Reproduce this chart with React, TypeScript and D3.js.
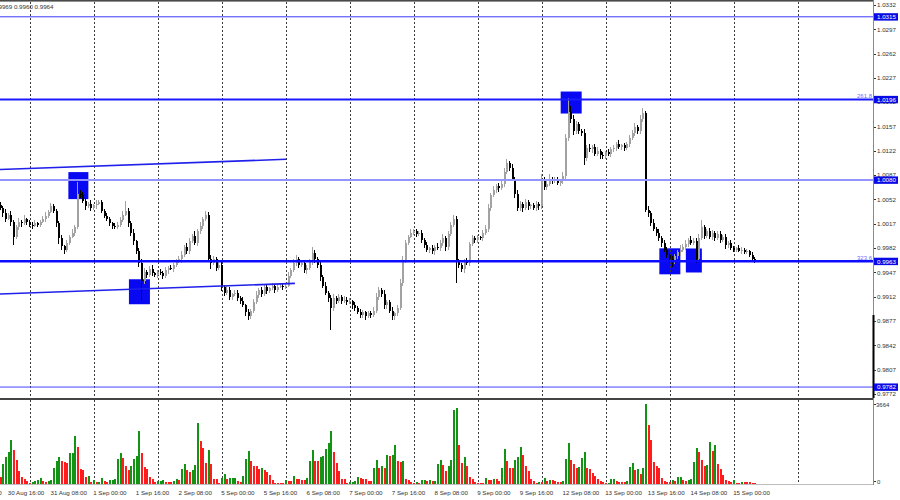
import React from 'react';
import * as d3 from 'd3';

// ---- DATA ----
// hourly closes, in 1/10000 price units (EURUSD H1)
const firstOpen = 10044;
const closes = [
  10040,10032,10024,10030,10020,9998,10012,10020,10018,10024,
  10019,10016,10014,10018,10016,10020,10024,10028,10034,10042,
  10036,10018,9996,9985,9980,9990,9998,10004,10012,10060,
  10058,10050,10042,10046,10040,10044,10046,10048,10036,10028,
  10024,10018,10014,10012,10016,10022,10030,10036,10018,10004,
  9992,9978,9960,9935,9948,9944,9952,9946,9944,9948,
  9946,9942,9950,9954,9952,9958,9962,9966,9972,9984,
  9978,9992,10000,9990,10006,10014,10024,10030,9966,9960,
  9966,9954,9958,9926,9918,9922,9912,9916,9918,9910,
  9906,9900,9890,9884,9892,9904,9914,9922,9916,9926,
  9920,9924,9928,9922,9926,9928,9926,9928,9942,9950,
  9960,9966,9958,9960,9950,9954,9962,9975,9966,9958,
  9940,9928,9918,9910,9896,9910,9906,9912,9906,9908,
  9904,9906,9900,9896,9890,9886,9890,9884,9888,9886,
  9892,9912,9922,9916,9900,9904,9892,9884,9888,9896,
  9932,9964,9990,9998,10004,10006,10002,10004,9994,9986,
  9980,9982,9978,9984,9982,9990,9996,9984,10002,10016,
  10024,9962,9958,9952,9962,9960,9988,9996,9994,9998,
  9996,10004,10010,10040,10058,10066,10072,10068,10074,10092,
  10104,10098,10082,10060,10040,10046,10040,10048,10042,10044,
  10040,10046,10042,10080,10070,10074,10082,10078,10080,10076,
  10078,10086,10140,10178,10168,10150,10160,10150,10148,10112,
  10126,10124,10128,10118,10122,10116,10114,10120,10118,10124,
  10126,10132,10128,10130,10126,10132,10140,10148,10156,10150,
  10168,10176,10037,10032,10018,10010,10004,9996,9990,9980,
  9972,9966,9962,9970,9976,9980,9984,9988,9994,9990,
  9992,9966,9996,10012,10000,10006,9998,10004,9996,10002,
  9994,9998,9986,9990,9982,9980,9982,9978,9980,9976,
  9978,9972,9966,9964,
];
// upper / lower shadow lengths (1/10000 units)
const wickUp = [
  4,3,6,2,5,3,4,6,3,5, 2,4,3,5,2,3,4,6,3,5, 4,2,3,5,2,4,3,6,4,17, 6,5,4,3,6,2,5,4,3,2,
  5,3,2,4,3,5,6,14,4,3, 5,2,4,6,5,3,4,6,2,3, 4,3,5,2,4,3,5,4,6,3, 5,4,3,6,4,5,3,5,4,6,
  5,3,4,6,3,5,4,2,3,4, 3,5,2,4,3,5,6,3,4,5, 3,2,4,3,5,2,4,3,5,4, 6,6,3,4,5,3,4,8,5,3,
  4,3,5,2,4,6,3,4,2,5, 3,4,2,5,3,4,3,2,4,3, 5,6,4,3,5,4,3,5,2,4, 5,6,4,3,5,4,3,2,4,3,
  5,2,4,3,5,4,6,3,5,4, 6,4,5,3,4,6,3,5,4,3, 2,4,5,6,4,5,3,4,6,5, 6,4,5,3,6,4,3,5,4,2,
  3,4,2,8,5,4,6,3,5,4, 3,5,6,20,8,6,5,4,3,5, 4,6,3,4,5,3,4,2,5,3, 4,3,5,2,4,3,5,4,6,3,
  5,8,3,5,4,6,3,5,4,3, 4,3,5,4,3,6,4,5,3,6, 4,5,6,10,4,3,5,4,3,5, 4,3,5,2,4,3,2,4,3,2,
  3,2,4,3,
];
const wickDn = [
  3,5,4,2,6,12,3,4,5,3, 4,3,5,2,4,3,2,4,3,2, 3,5,8,6,6,4,3,2,4,3, 4,3,5,2,4,3,5,2,4,3,
  3,4,5,3,2,4,3,2,5,4, 6,4,5,27,4,5,3,4,3,5, 2,4,3,5,2,4,3,2,5,3, 4,5,3,4,5,3,4,3,4,8,
  3,5,4,6,5,3,4,5,3,4, 4,3,5,6,4,3,2,4,5,3, 4,3,2,4,3,2,4,3,2,3, 3,4,5,3,4,5,3,4,5,4,
  5,4,3,5,32,4,5,3,4,3, 4,3,5,4,3,5,4,6,3,4, 3,4,5,4,6,5,4,6,5,4, 3,4,3,4,2,3,4,3,5,4,
  3,5,4,6,3,4,5,6,4,3, 4,30,5,4,6,3,4,3,5,4, 3,4,3,5,4,3,4,5,3,4, 3,5,4,6,5,4,6,3,5,4,
  3,4,5,3,4,5,3,4,2,3, 4,3,5,4,6,5,3,4,5,10, 4,3,5,4,3,5,4,3,4,5, 3,4,3,5,4,3,4,3,5,4,
  3,4,3,5,4,3,5,4,6,3, 4,5,7,3,4,5,3,4,5,4, 3,6,4,3,5,4,3,5,4,3, 4,3,5,4,3,4,3,2,4,3,
  2,3,4,4,
];
// tick volumes
const volumes = [
  307,916,1237,1466,2015,1557,1099,595,321,229, 115,46,78,137,197,275,124,105,137,197,
  733,1040,1223,1067,1021,962,1410,1425,2198,1681, 687,641,334,353,105,197,105,110,261,151,
  105,197,205,229,1145,1406,1177,838,655,811, 1145,1296,2414,1406,765,687,307,229,78,124,
  151,169,105,100,78,137,229,197,687,916, 641,563,655,870,2780,1956,1635,962,1557,916,
  229,220,46,261,444,229,261,265,270,137, 105,353,1145,1498,1040,838,811,687,747,641,
  536,412,183,46,44,42,40,197,137,133, 353,229,225,197,192,261,1040,1571,1067,1060,
  1223,1296,1603,1878,2414,1479,962,582,229,225, 46,105,110,151,307,289,229,225,151,137,
  747,1085,747,824,747,1328,1282,1328,1786,1040, 994,1053,229,197,78,46,105,46,183,197,
  137,197,137,140,930,1099,870,609,838,1113, 3403,3467,1786,948,1250,838,307,229,78,46,
  44,42,261,197,192,229,225,151,747,1589, 1053,719,710,1099,1223,1681,1328,811,609,229,
  137,46,105,78,289,137,197,192,137,105, 100,137,1131,1864,1099,916,719,765,1205,1452,
  747,687,490,380,229,137,105,46,50,229, 235,151,105,78,75,137,792,962,641,687,
  458,733,3664,2716,2015,1021,838,733,261,151, 78,75,183,137,307,310,183,137,197,229,
  1021,1649,1452,1113,811,870,1937,1525,1786,916, 687,412,197,137,78,183,46,44,105,100,
  78,75,46,32,
];
const volumeMax = 3664;

const timeLabels = [
  '30 Aug 00:00','30 Aug 16:00','31 Aug 08:00','1 Sep 00:00','1 Sep 16:00','2 Sep 08:00',
  '5 Sep 00:00','5 Sep 16:00','6 Sep 08:00','7 Sep 00:00','7 Sep 16:00','8 Sep 08:00',
  '9 Sep 00:00','9 Sep 16:00','12 Sep 08:00','13 Sep 00:00','13 Sep 16:00','14 Sep 08:00','15 Sep 00:00',
];
const labelBars = [-14,2,18,34,50,66,82,98,114,130,146,162,178,194,210,226,242,258,274];

const priceTicks = [1.0332,1.0297,1.0262,1.0227,1.0192,1.0157,1.0122,1.0087,1.0052,1.0017,0.9982,0.9947,0.9912,0.9877,0.9842,0.9807,0.9772];
const levelPrices = [1.0315, 1.0196, 1.0080, 0.9963, 0.9782];
const fibPrices = [1.0196, 0.9963];
const fibTexts = ['261.8', '323.6'];
const trendUpperBars = [-0.2, 107.1];
const trendUpperPrices = [1.00952, 1.01099];
const trendLowerBars = [-0.2, 110.4];
const trendLowerPrices = [0.99159, 0.99313];
const markerBars = [29.2, 52.1, 214, 251, 260];
const markerPrices = [1.0072, 0.99192, 1.01916, 0.9963, 0.99642];
const headerText = 'EURUSD,H1  0.9966 0.9969 0.9960 0.9964';

// ---- STYLE / LAYOUT ----
const BAR_STEP = 2.6667;
const AXIS_X = 873;
const FONT = '"Liberation Sans", Arial, sans-serif';
const markerSizes = [[20, 27], [21, 25], [21, 22], [21, 26], [16, 24]];
const levelStyles = [
  { c: '#3a3aff', w: 1 },
  { c: '#1a1aff', w: 2 },
  { c: '#9494ff', w: 2 },
  { c: '#0c0cff', w: 2.5 },
  { c: '#4444ff', w: 1 },
];

export default function App() {
  const n = closes.length;
  const x = d3.scaleLinear().domain([0, n - 1]).range([0.5, 0.5 + (n - 1) * BAR_STEP]);
  const y = d3.scaleLinear().domain([0.9772, 1.0332]).range([394, 5]);
  const vy = d3.scaleLinear().domain([0, volumeMax]).range([484, 404]);

  const candles = closes.map((c, i) => {
    const o = i === 0 ? firstOpen : closes[i - 1];
    const hi = Math.max(o, c) + wickUp[i];
    const lo = Math.min(o, c) - wickDn[i];
    return { o: o / 1e4, c: c / 1e4, h: hi / 1e4, l: lo / 1e4 };
  });

  const gridXs = d3.range(0, 13).map((k) => 30 + 64 * k);
  const line = d3.line<[number, number]>().x((d) => x(d[0])).y((d) => y(d[1]));

  return (
    <svg width={900} height={500} style={{ position: 'absolute', left: 0, top: 0, background: '#fff' }}
      fontFamily={FONT}>
      <rect x={0} y={0} width={900} height={500} fill="#fff" />

      {/* rectangles (background objects) */}
      {markerBars.map((b, k) => {
        const [w, h] = markerSizes[k];
        return <rect key={'m' + k} x={x(b) - w / 2} y={y(markerPrices[k]) - h / 2} width={w} height={h} fill="#0808f2" />;
      })}

      {/* grid */}
      <g stroke="#3a3a3a" strokeWidth={1} strokeDasharray="2,2" shapeRendering="crispEdges">
        {gridXs.map((gx) => (
          <g key={'g' + gx}>
            <line x1={gx + 0.5} x2={gx + 0.5} y1={2} y2={398} />
            <line x1={gx + 0.5} x2={gx + 0.5} y1={400} y2={484} />
          </g>
        ))}
      </g>

      {/* candles */}
      <g shapeRendering="crispEdges">
        {candles.map((d, i) => {
          const cx = Math.round(x(i));
          const bull = d.c >= d.o;
          const col = bull ? '#a2a2a2' : '#000';
          const top = y(Math.max(d.o, d.c));
          const bot = y(Math.min(d.o, d.c));
          return (
            <g key={'c' + i} fill={col}>
              <rect x={cx - 1} y={y(d.h)} width={1} height={Math.max(1, y(d.l) - y(d.h))} />
              <rect x={cx - 1} y={top} width={2} height={Math.max(1, bot - top)} />
            </g>
          );
        })}
      </g>

      {/* trend lines */}
      <path d={line(trendUpperBars.map((b, k) => [b, trendUpperPrices[k]]) as any) || ''} stroke="#2020ea" strokeWidth={1.6} fill="none" />
      <path d={line(trendLowerBars.map((b, k) => [b, trendLowerPrices[k]]) as any) || ''} stroke="#2020ea" strokeWidth={1.6} fill="none" />

      {/* horizontal levels */}
      {levelPrices.map((p, k) => (
        <line key={'l' + k} x1={0} x2={AXIS_X} y1={y(p)} y2={y(p)} stroke={levelStyles[k].c} strokeWidth={levelStyles[k].w} />
      ))}
      {fibPrices.map((p, k) => (
        <text key={'f' + k} x={872} y={y(p) - 1} textAnchor="end" fontSize={6} fill="#6a6aff">{fibTexts[k]}</text>
      ))}

      {/* volumes */}
      <g shapeRendering="crispEdges">
        {volumes.map((v, i) => {
          const cx = Math.round(x(i));
          const up = i > 0 && v > volumes[i - 1];
          return <rect key={'v' + i} x={cx - 1} y={vy(v)} width={2} height={484 - vy(v)} fill={up ? '#139313' : '#ff1c1c'} />;
        })}
      </g>

      {/* frame */}
      <rect x={0} y={0} width={AXIS_X} height={1.6} fill="#4a4a4a" />
      <rect x={0} y={398} width={AXIS_X} height={2} fill="#444" />
      <line x1={AXIS_X + 0.5} x2={AXIS_X + 0.5} y1={0} y2={485} stroke="#8a8a8a" strokeWidth={1} />
      <line x1={0} x2={AXIS_X} y1={484.5} y2={484.5} stroke="#bdbdbd" strokeWidth={1} />
      <rect x={AXIS_X - 0.5} y={315} width={2} height={83} fill="#000" />

      {/* price axis */}
      {priceTicks.map((p) => (
        <g key={'t' + p}>
          <line x1={AXIS_X + 1} x2={AXIS_X + 3} y1={Math.round(y(p)) + 0.5} y2={Math.round(y(p)) + 0.5} stroke="#333" />
          <text x={877} y={y(p) + 2.2} fontSize={6.2} fill="#333">{p.toFixed(4)}</text>
        </g>
      ))}
      {levelPrices.map((p, k) => (
        <g key={'lb' + k}>
          <rect x={874} y={y(p) - 3.6} width={24} height={7.4} fill="#0a0ae6" />
          <text x={877} y={y(p) + 2.3} fontSize={6.2} fill="#fff">{p.toFixed(4)}</text>
        </g>
      ))}

      {/* volume axis */}
      <line x1={AXIS_X + 1} x2={AXIS_X + 3} y1={404.5} y2={404.5} stroke="#333" />
      <text x={876} y={407} fontSize={6} fill="#333">{volumeMax}</text>
      <line x1={AXIS_X + 1} x2={AXIS_X + 3} y1={481.5} y2={481.5} stroke="#333" />
      <text x={877} y={484} fontSize={6} fill="#333">0</text>

      {/* header */}
      <text x={53.5} y={9} textAnchor="end" fontSize={6.2} fill="#333">{headerText}</text>

      {/* time axis */}
      {labelBars.map((b, k) => (
        <text key={'x' + k} x={x(b) + 2} y={494.5} fontSize={6.2} fill="#333">{timeLabels[k]}</text>
      ))}
    </svg>
  );
}
